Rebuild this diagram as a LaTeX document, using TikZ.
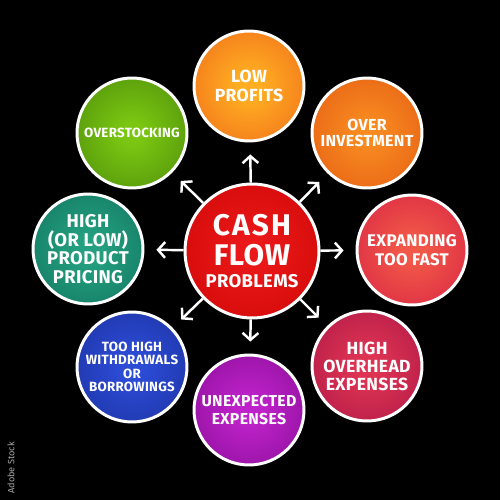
\documentclass[tikz,border=0pt]{standalone}
\usepackage{fontspec}
\setmainfont{Fira Sans}
\newfontfamily\handfont[LetterSpace=2]{Fira Sans}
\newfontfamily\bighand[LetterSpace=7]{Fira Sans}
\usetikzlibrary{arrows.meta}
\colorlet{bin}{red}
\colorlet{bout}{red}
\pgfdeclareradialshading[bin,bout]{glow}{\pgfpoint{0bp}{0bp}}{color(0bp)=(bin); color(5bp)=(bin); color(50bp)=(bout)}
\definecolor{cRedIn}{HTML}{EA1818}
\definecolor{cRedOut}{HTML}{C40000}
\definecolor{cLpIn}{HTML}{FFAE22}
\definecolor{cLpOut}{HTML}{EA5016}
\definecolor{cOiIn}{HTML}{F88A20}
\definecolor{cOiOut}{HTML}{DC4A0E}
\definecolor{cExIn}{HTML}{F25848}
\definecolor{cExOut}{HTML}{CC0E42}
\definecolor{cHoIn}{HTML}{DE3454}
\definecolor{cHoOut}{HTML}{9C0C3E}
\definecolor{cUeIn}{HTML}{BE22CA}
\definecolor{cUeOut}{HTML}{760684}
\definecolor{cThIn}{HTML}{2C4CD6}
\definecolor{cThOut}{HTML}{16268A}
\definecolor{cHlIn}{HTML}{24A080}
\definecolor{cHlOut}{HTML}{0A6452}
\definecolor{cOsIn}{HTML}{7AC612}
\definecolor{cOsOut}{HTML}{3A7606}
\definecolor{wmark}{HTML}{A8A8A8}
\tikzset{
  bubble/.style n args={3}{circle, draw=white, line width=1.7pt, minimum size=2.2cm,
    inner sep=0pt, align=center, text=white,
    font={\handfont\bfseries\fontsize{#3}{#3}\selectfont},
    /utils/exec={\colorlet{bin}{#1}\colorlet{bout}{#2}}, shade, shading=glow},
  arr/.style={draw=white, line width=1.4pt, -{Straight Barb[length=4pt,width=9pt]}, shorten >=6.8pt},
}
\begin{document}
\begin{tikzpicture}[x=0.02cm,y=-0.02cm]
\fill[black] (0,0) rectangle (500,500);
\useasboundingbox (0,0) rectangle (500,500);
\node[bubble={cRedIn}{cRedOut}{17}, minimum size=2.68cm] (c) at (252,251)
  {\bighand\bfseries\fontsize{17}{17}\selectfont CASH\\[0.5pt]FLOW\\[-4.5pt]{\handfont\bfseries\fontsize{10.5}{10.5}\selectfont PROBLEMS}};
\node[bubble={cLpIn}{cLpOut}{10}] (lp) at (249,86) {LOW\\[0.5pt]PROFITS};
\node[bubble={cOiIn}{cOiOut}{9.1}] (oi) at (367,133) {OVER\\[0.5pt]INVESTMENT};
\node[bubble={cExIn}{cExOut}{9.6}] (ex) at (412,250) {EXPANDING\\[1pt]TOO FAST};
\node[bubble={cHoIn}{cHoOut}{10}] (ho) at (367,366) {HIGH\\[0.5pt]OVERHEAD\\[0pt]EXPENSES};
\node[bubble={cUeIn}{cUeOut}{9}] (ue) at (249,410) {UNEXPECTED\\[1pt]EXPENSES};
\node[bubble={cThIn}{cThOut}{7.6}] (th) at (132,367) {TOO HIGH\\WITHDRAWALS\\OR\\BORROWINGS};
\node[bubble={cHlIn}{cHlOut}{10.5}] (hl) at (88,249) {HIGH\\[0pt](OR LOW)\\[0pt]PRODUCT\\[0pt]PRICING};
\node[bubble={cOsIn}{cOsOut}{7.6}] (os) at (132,133) {OVERSTOCKING};
\foreach \t in {lp,oi,ex,ho,ue,th,hl,os}
  \draw[arr] (c) -- (\t);
\node[rotate=90, text=wmark, font=\fontsize{5.2}{5.2}\selectfont, inner sep=0pt] (wm) at (11,468) {Adobe Stock};
\end{tikzpicture}
\end{document}
